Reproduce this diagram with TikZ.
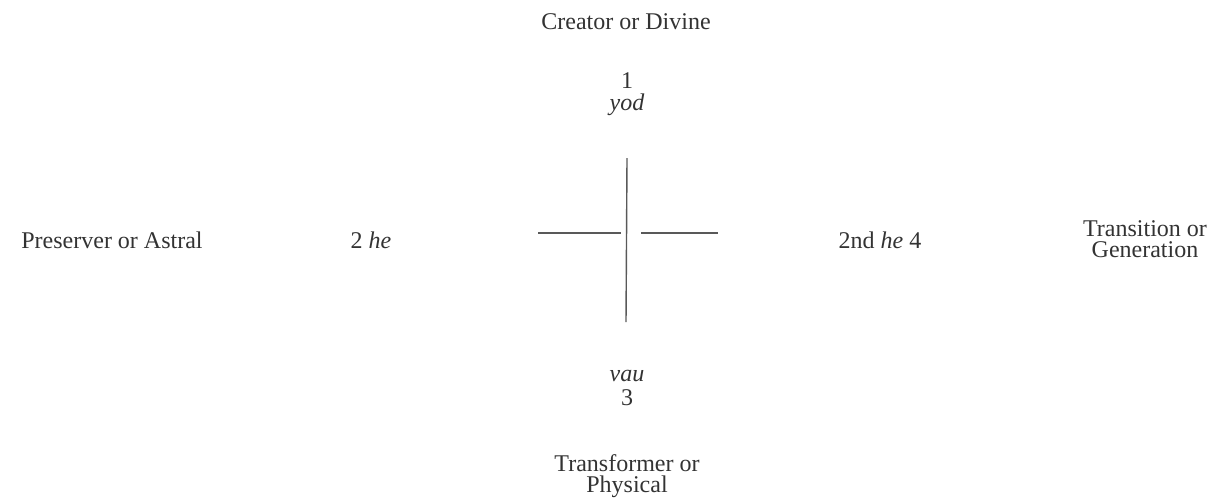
\documentclass[tikz,border=0pt]{standalone}
\usepackage{fontspec}
\setmainfont{Liberation Serif}
\begin{document}
\begin{tikzpicture}[x=0.5pt,y=-0.5pt,
  lbl/.style={text=black!80, font=\fontsize{12}{10.5}\selectfont, inner sep=0pt, align=center},
  bar/.style={draw=black!65, line width=0.7pt}]
\useasboundingbox (0,0) rectangle (1214,499);
\node[lbl] (creator) at (626,22) {Creator or Divine};
\node[lbl] (one) at (627,81) {1};
\node[lbl] (yod) at (627,105) {\itshape yod};
\node[lbl] (preserver) at (112,240) {Preserver or Astral};
\node[lbl] (two) at (371,240) {2 \textit{he}};
\node[lbl] (four) at (880,240) {2nd \textit{he} 4};
\node[lbl] (transition) at (1145,239) {Transition or\\Generation};
\node[lbl] (vau) at (627,376) {\itshape vau};
\node[lbl] (three) at (627,398) {3};
\node[lbl] (transformer) at (627,476) {Transformer or\\Physical};
\coordinate (vt) at (627,158);
\coordinate (vb) at (626,322);
\coordinate (l1) at (538,233);
\coordinate (l2) at (621,233);
\coordinate (r1) at (641,233);
\coordinate (r2) at (718,233);
\draw[bar] (vt) -- (vb);
\draw[bar] (l1) -- (l2);
\draw[bar] (r1) -- (r2);
\end{tikzpicture}
\end{document}
